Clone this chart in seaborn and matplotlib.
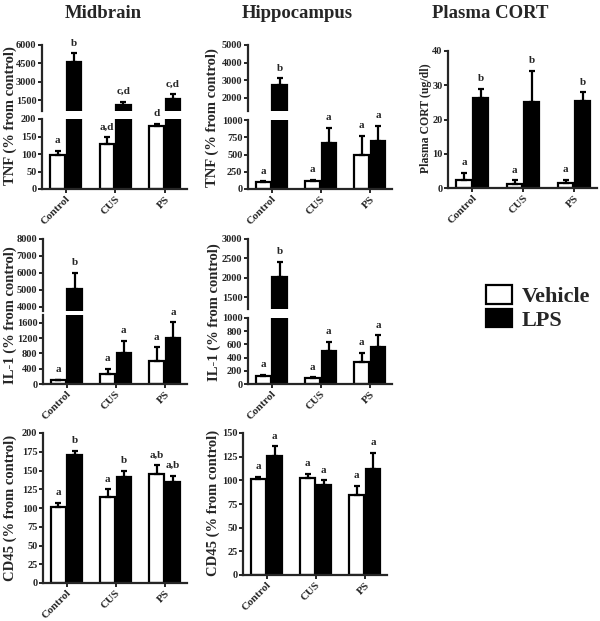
import numpy as np
import pandas as pd
import matplotlib
matplotlib.use("Agg")
import matplotlib.pyplot as plt
import seaborn as sns
from matplotlib.patches import Patch

# group / treatment labels
groups = ["Control", "CUS", "PS"]
treatments = ["Vehicle", "LPS"]

# Midbrain TNF
mid_tnf_veh = [97, 130, 180]
mid_tnf_veh_sem = [13, 18, 7]
mid_tnf_lps = [4630, 1080, 1550]
mid_tnf_lps_sem = [700, 270, 410]
mid_tnf_veh_let = ["a", "a,d", "d"]
mid_tnf_lps_let = ["b", "c,d", "c,d"]

# Hippocampus TNF
hip_tnf_veh = [100, 110, 500]
hip_tnf_veh_sem = [10, 20, 270]
hip_tnf_lps = [2750, 670, 700]
hip_tnf_lps_sem = [370, 220, 220]
hip_tnf_veh_let = ["a", "a", "a"]
hip_tnf_lps_let = ["b", "a", "a"]

# Plasma CORT
cort_veh = [2.2, 1.2, 1.5]
cort_veh_sem = [2.2, 1.0, 0.9]
cort_lps = [26.2, 25.0, 25.4]
cort_lps_sem = [2.8, 9.2, 2.6]
cort_veh_let = ["a", "a", "a"]
cort_lps_let = ["b", "b", "b"]

# Midbrain IL-1
mid_il1_veh = [100, 270, 600]
mid_il1_veh_sem = [15, 120, 360]
mid_il1_lps = [5050, 800, 1200]
mid_il1_lps_sem = [950, 330, 410]
mid_il1_veh_let = ["a", "a", "a"]
mid_il1_lps_let = ["b", "a", "a"]

# Hippocampus IL-1
hip_il1_veh = [120, 90, 330]
hip_il1_veh_sem = [20, 10, 140]
hip_il1_lps = [2010, 495, 555]
hip_il1_lps_sem = [400, 145, 185]
hip_il1_veh_let = ["a", "a", "a"]
hip_il1_lps_let = ["b", "a", "a"]

# Midbrain CD45
mid_cd45_veh = [101, 115, 145]
mid_cd45_veh_sem = [6, 10, 12]
mid_cd45_lps = [171, 141, 135]
mid_cd45_lps_sem = [5, 9, 8]
mid_cd45_veh_let = ["a", "a", "a,b"]
mid_cd45_lps_let = ["b", "b", "a,b"]

# Hippocampus CD45
hip_cd45_veh = [101, 102, 85]
hip_cd45_veh_sem = [3, 5, 9]
hip_cd45_lps = [126, 95, 112]
hip_cd45_lps_sem = [10, 5, 17]
hip_cd45_veh_let = ["a", "a", "a"]
hip_cd45_lps_let = ["a", "a", "a"]

sns.set_style("ticks")
plt.rcParams["font.family"] = ["Liberation Serif", "DejaVu Serif"]
plt.rcParams["font.weight"] = "bold"
plt.rcParams["axes.labelweight"] = "bold"

W, H = 600, 621
fig = plt.figure(figsize=(W / 100, H / 100), dpi=100)


def rect(x0, y0, x1, y1):
    return [x0 / W, 1 - y1 / H, (x1 - x0) / W, (y1 - y0) / H]


def draw_bars(ax, veh, veh_sem, lps, lps_sem):
    df = pd.DataFrame({
        "group": groups * 2,
        "treatment": ["Vehicle"] * 3 + ["LPS"] * 3,
        "value": veh + lps,
    })
    sns.barplot(data=df, x="group", y="value", hue="treatment", hue_order=treatments,
                palette={"Vehicle": "white", "LPS": "black"}, edgecolor="black",
                linewidth=1.6, width=0.66, gap=0.1, errorbar=None, legend=False, ax=ax)
    centers = []
    for cont, means, sems in zip(ax.containers, [veh, lps], [veh_sem, lps_sem]):
        xs = [p.get_x() + p.get_width() / 2 for p in cont]
        centers.append(xs)
        ax.errorbar(xs, means, yerr=[np.zeros(len(means)), sems], fmt="none",
                    ecolor="black", elinewidth=1.6, capsize=2.5, capthick=1.6, zorder=3)
    ax.set_xlim(-0.48, 2.45)
    ax.set_xlabel("")
    ax.set_ylabel("")
    for s in ["left", "bottom"]:
        ax.spines[s].set_linewidth(1.6)
    sns.despine(ax=ax)
    ax.tick_params(width=1.4, length=3, labelsize=7.5, pad=1)
    return centers


def letters(axes, centers, means_list, sems_list, lets_list):
    for xs, means, sems, lets in zip(centers, means_list, sems_list, lets_list):
        for x, m, s, t in zip(xs, means, sems, lets):
            top = m + s
            target = axes[-1]
            for ax in axes:
                lo, hi = ax.get_ylim()
                if lo <= top <= hi:
                    target = ax
            target.annotate(t, (x, top), xytext=(0, 4), textcoords="offset points",
                            ha="center", va="bottom", fontsize=8, fontweight="bold",
                            annotation_clip=False)


def xlabels(ax):
    ax.set_xticks(range(3))
    ax.set_xticklabels(groups, rotation=45, ha="right", rotation_mode="anchor", fontsize=8)


def single(box, veh, vs, lps, ls, vl, ll, ylim, ticks):
    ax = fig.add_axes(rect(*box))
    c = draw_bars(ax, veh, vs, lps, ls)
    ax.set_ylim(*ylim)
    ax.set_yticks(ticks)
    xlabels(ax)
    letters([ax], c, [veh, lps], [vs, ls], [vl, ll])
    return ax


def broken(box_top, box_bot, veh, vs, lps, ls, vl, ll, ylim_top, ticks_top, ylim_bot, ticks_bot):
    ax_t = fig.add_axes(rect(*box_top))
    ax_b = fig.add_axes(rect(*box_bot))
    draw_bars(ax_t, veh, vs, lps, ls)
    c = draw_bars(ax_b, veh, vs, lps, ls)
    ax_t.set_ylim(*ylim_top)
    ax_t.set_yticks(ticks_top)
    ax_b.set_ylim(*ylim_bot)
    ax_b.set_yticks(ticks_bot)
    ax_t.spines["bottom"].set_visible(False)
    ax_t.tick_params(axis="x", bottom=False, labelbottom=False)
    xlabels(ax_b)
    letters([ax_b, ax_t], c, [veh, lps], [vs, ls], [vl, ll])
    return ax_t, ax_b


# Row 1
broken((42, 45, 187, 111), (42, 119, 187, 189),
       mid_tnf_veh, mid_tnf_veh_sem, mid_tnf_lps, mid_tnf_lps_sem,
       mid_tnf_veh_let, mid_tnf_lps_let,
       (600, 6000), [1500, 3000, 4500, 6000], (0, 200), [0, 50, 100, 150, 200])
broken((248, 45, 392, 111), (248, 120, 392, 189),
       hip_tnf_veh, hip_tnf_veh_sem, hip_tnf_lps, hip_tnf_lps_sem,
       hip_tnf_veh_let, hip_tnf_lps_let,
       (1250, 5000), [2000, 3000, 4000, 5000], (0, 1000), [0, 250, 500, 750, 1000])
single((448, 51, 597, 188), cort_veh, cort_veh_sem, cort_lps, cort_lps_sem,
       cort_veh_let, cort_lps_let, (0, 40), [0, 10, 20, 30, 40])

# Row 2
broken((43, 239, 187, 311), (43, 315, 187, 384),
       mid_il1_veh, mid_il1_veh_sem, mid_il1_lps, mid_il1_lps_sem,
       mid_il1_veh_let, mid_il1_lps_let,
       (3750, 8000), [4000, 5000, 6000, 7000, 8000], (0, 1800), [0, 400, 800, 1200, 1600])
broken((248, 239, 392, 309), (248, 318, 392, 384),
       hip_il1_veh, hip_il1_veh_sem, hip_il1_lps, hip_il1_lps_sem,
       hip_il1_veh_let, hip_il1_lps_let,
       (1200, 3000), [1500, 2000, 2500, 3000], (0, 1000), [0, 200, 400, 600, 800, 1000])

# Row 3
single((43, 433, 187, 583), mid_cd45_veh, mid_cd45_veh_sem, mid_cd45_lps, mid_cd45_lps_sem,
       mid_cd45_veh_let, mid_cd45_lps_let, (0, 200), list(range(0, 201, 25)))
single((243, 433, 387, 575), hip_cd45_veh, hip_cd45_veh_sem, hip_cd45_lps, hip_cd45_lps_sem,
       hip_cd45_veh_let, hip_cd45_lps_let, (0, 150), list(range(0, 151, 25)))

# column titles
for x, t in [(103, "Midbrain"), (297, "Hippocampus"), (490, "Plasma CORT")]:
    fig.text(x / W, 1 - 14 / H, t, ha="center", va="center", fontsize=13.5, fontweight="bold")

# y labels
ylabs = [(10, 116, "TNF (% from control)", 10.5), (212, 118, "TNF (% from control)", 10.5),
         (426, 118, "Plasma CORT (ug/dl)", 8.5), (10, 315, "IL-1 (% from control)", 10.5),
         (214, 312, "IL-1 (% from control)", 10.5), (10, 508, "CD45 (% from control)", 10.5),
         (213, 503, "CD45 (% from control)", 10.5)]
for x, y, t, fs in ylabs:
    fig.text(x / W, 1 - y / H, t, rotation=90, ha="center", va="center",
             fontsize=fs, fontweight="bold")

# legend
handles = [Patch(facecolor="white", edgecolor="black", linewidth=1.6, label="Vehicle"),
           Patch(facecolor="black", edgecolor="black", linewidth=1.6, label="LPS")]
fig.legend(handles=handles, loc="upper left", bbox_to_anchor=(475 / W, 1 - 274 / H),
           frameon=False, borderpad=0, handlelength=1.15, handleheight=0.9,
           handletextpad=0.45, labelspacing=0.08, prop={"size": 16, "weight": "bold"})

fig.savefig("out.png", dpi=100)
